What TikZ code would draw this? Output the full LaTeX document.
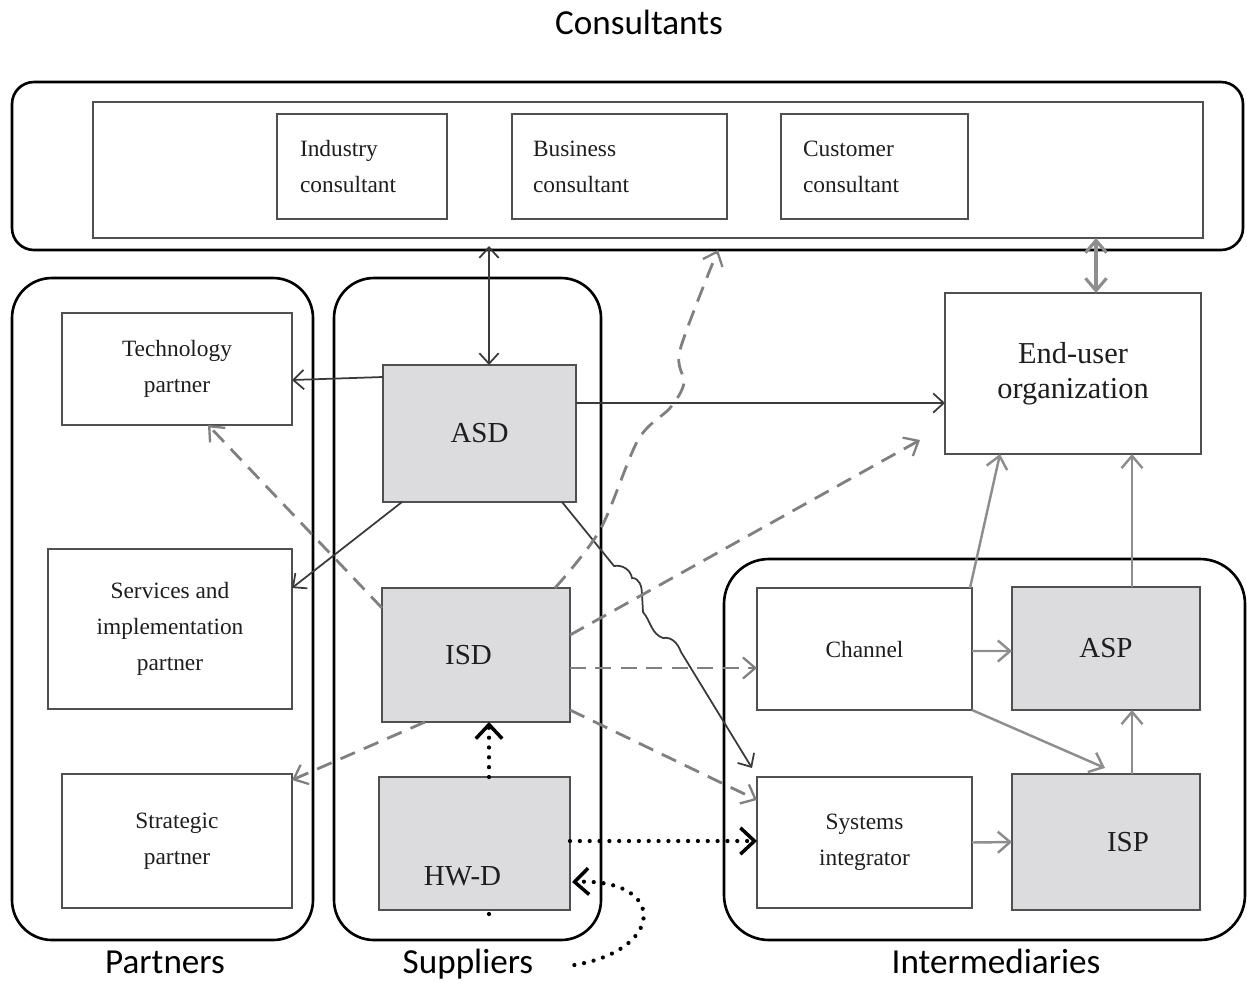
\documentclass[tikz,border=0pt]{standalone}
\usepackage{fontspec}
\setmainfont{Liberation Serif}
\newfontfamily\lblfont{Carlito}
\usetikzlibrary{arrows.meta,calc}
\definecolor{boxc}{HTML}{505050}
\definecolor{boxfill}{HTML}{DCDCDF}
\definecolor{txtc}{HTML}{1E1E1E}
\definecolor{darkline}{HTML}{3A3A3A}
\definecolor{dashcol}{HTML}{808080}
\definecolor{graycol}{HTML}{8E8E8E}
\begin{document}
\begin{tikzpicture}[x=0.02cm,y=-0.02cm,
  sz/.style 2 args={minimum width=#1*0.02cm, minimum height=#2*0.02cm},
  box/.style={draw=boxc, line width=1.2pt, inner sep=0pt, outer sep=0pt, fill=white,
    text=txtc, font=\fontsize{13.3}{20.4}\selectfont, align=center},
  gbox/.style={box, fill=boxfill},
  big/.style={font=\fontsize{16.5}{20}\selectfont},
  group/.style={draw=black, line width=1.5pt, inner sep=0pt, outer sep=0pt},
  lbl/.style={font=\lblfont\fontsize{20}{24}\selectfont, text=black, inner sep=1pt, anchor=base},
  darkc/.style={draw=darkline, line width=1pt, >={Straight Barb[length=6pt,width=11pt]}},
  dashc/.style={draw=dashcol, line width=1.6pt, dash pattern=on 9pt off 5.5pt,
    >={Straight Barb[length=7pt,width=12pt,line width=1.3pt]}},
  grayc/.style={draw=graycol, line width=1.4pt, >={Straight Barb[length=7pt,width=12pt]}},
  dotc/.style={draw=black, line width=2.4pt, dash pattern=on 0pt off 5.6pt, line cap=round,
    >={Straight Barb[length=8pt,width=15pt,line width=2pt]}}
]
\useasboundingbox (0,0) rectangle (1247,981);

% ---------- groups ----------
\node[group, rounded corners=0.44cm, sz={1231}{168}] (consout) at (627.5,166) {};
\node[box, sz={1110}{136}] (consin) at (648,170) {};
\node[group, rounded corners=0.8cm, sz={301}{662}] (partners) at (162.5,609) {};
\node[group, rounded corners=0.8cm, sz={267}{662}] (suppliers) at (467.5,609) {};
\node[group, rounded corners=0.9cm, sz={521}{381}] (inter) at (984.5,749.5) {};

% ---------- group labels ----------
\node[lbl] (conslab) at (639,34) {Consultants};
\node[lbl] (partlab) at (165,973) {Partners};
\node[lbl] (suplab) at (468,973) {Suppliers};
\node[lbl] (interlab) at (996,973) {Intermediaries};

% ---------- consultants ----------
\node[box, align=left, inner xsep=0.46cm, text width=2.48cm, sz={170}{105}] (ind) at (362,166.5) {Industry\\consultant};
\node[box, align=left, inner xsep=0.42cm, text width=3.46cm, sz={215}{105}] (bus) at (619.5,166.5) {Business\\consultant};
\node[box, align=left, inner xsep=0.44cm, text width=2.86cm, sz={187}{105}] (cus) at (874.5,166.5) {Customer\\consultant};

% ---------- partners ----------
\node[box, sz={230}{112}] (tech) at (177,369) {Technology\\partner};
\node[box, sz={244}{160}] (serv) at (170,629) {Services and\\implementation\\partner};
\node[box, sz={230}{134}] (strat) at (177,841) {Strategic\\partner};

% ---------- suppliers ----------
\node[gbox, big, sz={193}{137}] (asd) at (479.5,433.5) {ASD};
\node[gbox, big, sz={188}{134}] (isd) at (476,655) {\hspace*{-0.3cm}ISD};
\node[gbox, sz={191}{133}, label={[big, text=txtc, xshift=-0.24cm, yshift=-0.65cm]center:HW-D}] (hwd) at (474.5,843.5) {};

% ---------- intermediaries ----------
\node[box, sz={215}{122}] (chan) at (864.5,649) {Channel};
\node[gbox, big, sz={188}{123}] (asp) at (1106,648.5) {ASP};
\node[box, sz={215}{131}] (si) at (864.5,842.5) {Systems\\integrator};
\node[gbox, sz={188}{136}, label={[big, text=txtc, xshift=0.44cm]center:ISP}] (isp) at (1106,842) {};

% ---------- end user ----------
\node[box, font=\fontsize{17.3}{20}\selectfont, sz={256}{161}] (eu) at (1073,373.5) {End-user\\organization};

% ---------- solid dark connectors (ASD) ----------
\coordinate (asdTop) at ($(asd.north)+(9.5,0)$);
\draw[darkc, <->] (asdTop) -- ($(asdTop |- consout.south)+(0,-4)$);
\draw[darkc, ->] ($(asd.west)+(0,-56.5)$) -- ($(tech.east)+(0,11)$);
\draw[darkc, ->] ($(asd.east)+(0,-30.5)$) -- ($(eu.west)+(0,29.5)$);
\draw[darkc, ->] ($(asd.south west)+(19,0)$) -- ($(serv.north east)+(0,39)$);
\coordinate (w0) at ($(asd.south east)+(-14,0)$);
\coordinate (w9) at ($(si.north west)+(-5,-9)$);
\draw[darkc, ->] (w0) -- (614,566) to[out=10,in=100] (632,578) to[out=0,in=90] (642,594)
  -- (643,612) to[out=-50,in=160] (663,638) to[out=10,in=110] (681,652) -- (w9);

% ---------- dashed connectors (ISD) ----------
\draw[dashc, ->] ($(isd.north west)+(0,20)$) -- ($(tech.south west)+(146,0)$);
\coordinate (isdTop) at ($(isd.north east)+(-15,0)$);
\coordinate (c7end) at ($(bus.south east)+(-9,31)$);
\draw[dashc, ->] plot[smooth, tension=0.5] coordinates {(isdTop) (600,530) (638,440) (670,408) (684,383) (680,350) (c7end)};
\draw[dashc, ->] ($(isd.east)+(0,-20)$) -- ($(eu.south west)+(-25,-14)$);
\draw[dashc, ->] ($(isd.east)+(0,13)$) -- ($(chan.west)+(0,19)$);
\draw[dashc, ->] ($(isd.south east)+(0,-12)$) -- ($(si.north west)+(0,23)$);
\draw[dashc, ->] ($(isd.south west)+(43,0)$) -- ($(strat.north east)+(0,6)$);

% ---------- dotted connectors (HW-D) ----------
\draw[dotc, ->] ($(hwd.north)+(14.5,0)$) -- ($(isd.south)+(13,0)$);
\draw[dotc, ->] ($(hwd.east)+(0,-2.5)$) -- ($(si.west)+(0,-1.5)$);
\coordinate (loopStart) at ($(suplab.east)+(39,1)$);
\draw[dotc, ->] (loopStart |- 0,965) .. controls (665,950) and (668,878) .. ($(hwd.east)+(2,38.5)$);
\draw[dotc] ($(hwd.south)+(14.5,4)$) -- ++(0,4);

% ---------- gray connectors (intermediaries) ----------
\draw[grayc, ->] ($(chan.north east)+(-2,0)$) -- ($(eu.south west)+(55,0)$);
\draw[grayc, ->] ($(asp.north)+(26,0)$) -- ($(eu.south)+(59,0)$);
\draw[grayc, ->] ($(chan.east)+(0,2)$) -- ($(asp.west)+(0,2.5)$);
\draw[grayc, ->] (chan.south east) -- ($(isp.north)+(-1,-6)$);
\draw[grayc, ->] ($(isp.north)+(26,0)$) -- ($(asp.south)+(26,0)$);
\draw[grayc, ->] (si.east) -- (isp.west);
\coordinate (euTop) at ($(eu.north)+(23,0)$);
\draw[grayc, line width=1.8pt, <->] (euTop) -- (euTop |- consin.south);
\end{tikzpicture}
\end{document}
